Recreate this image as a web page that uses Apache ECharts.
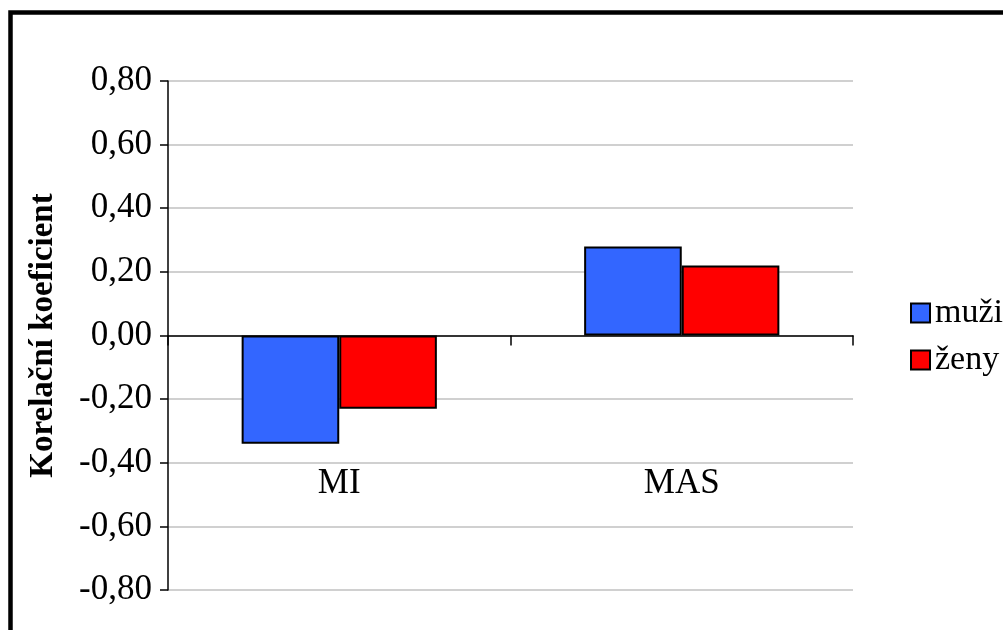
<!DOCTYPE html>
<html>
<head>
<meta charset="utf-8">
<script src="https://cdn.jsdelivr.net/npm/echarts@6/dist/echarts.min.js"></script>
<style>
  html, body { margin: 0; padding: 0; background: #ffffff; }
  #chart { width: 1003px; height: 630px; }
</style>
</head>
<body>
<div id="chart"></div>
<script>
// Correlation coefficients by group
const categories = ['MI', 'MAS'];
const seriesNames = ['muži', 'ženy'];
const muziValues = [-0.34, 0.28];
const zenyValues = [-0.23, 0.22];
const yTicks = [-0.8, -0.6, -0.4, -0.2, 0, 0.2, 0.4, 0.6, 0.8];
const yAxisTitle = 'Korelační koeficient';

const FONT = '"Liberation Serif", "Times New Roman", serif';
const fmt = v => (Math.abs(v) < 1e-9 ? 0 : v).toFixed(2).replace('.', ',');

const chart = echarts.init(document.getElementById('chart'), null, { renderer: 'canvas' });

chart.setOption({
  backgroundColor: '#ffffff',
  animation: false,
  textStyle: { fontFamily: FONT, color: '#000' },
  graphic: [{
    type: 'rect',
    shape: { x: 10.5, y: 12.5, width: 1100, height: 800 },
    style: { fill: 'none', stroke: '#000', lineWidth: 4.5 },
    silent: true
  }],
  grid: { left: 168, right: 150, top: 81, bottom: 40, containLabel: false, outerBoundsMode: 'none' },
  legend: {
    data: seriesNames,
    orient: 'vertical',
    left: 905,
    top: 291,
    icon: 'rect',
    itemWidth: 19,
    itemHeight: 19,
    itemGap: 13,
    textStyle: { fontFamily: FONT, fontSize: 34, color: '#000', lineHeight: 34 }
  },
  xAxis: {
    type: 'category',
    data: categories,
    axisLine: { onZero: true, lineStyle: { color: '#000', width: 1.5 } },
    axisTick: { show: true, length: 10, lineStyle: { color: '#000', width: 1.5 } },
    axisLabel: { margin: -124, fontFamily: FONT, fontSize: 35, color: '#000' },
    splitLine: { show: false }
  },
  yAxis: {
    type: 'value',
    min: yTicks[0],
    max: yTicks[yTicks.length - 1],
    interval: 0.2,
    name: yAxisTitle,
    nameLocation: 'middle',
    nameRotate: 90,
    nameGap: 108,
    nameTextStyle: { fontFamily: FONT, fontSize: 33, fontWeight: 'bold', color: '#000' },
    axisLine: { show: true, lineStyle: { color: '#000', width: 1.5 } },
    axisTick: { show: true, length: 8, lineStyle: { color: '#000', width: 1.5 } },
    axisLabel: { margin: 16, fontFamily: FONT, fontSize: 35, color: '#000', formatter: fmt },
    splitLine: { show: true, lineStyle: { color: '#c0c0c0', width: 1.5 } }
  },
  series: [
    {
      name: seriesNames[0],
      type: 'bar',
      data: muziValues,
      barGap: '0%',
      barCategoryGap: '43%',
      itemStyle: { color: '#3366FF', borderColor: '#000', borderWidth: 2 }
    },
    {
      name: seriesNames[1],
      type: 'bar',
      data: zenyValues,
      barGap: '0%',
      barCategoryGap: '43%',
      itemStyle: { color: '#FF0000', borderColor: '#000', borderWidth: 2 }
    }
  ]
});
</script>
</body>
</html>
